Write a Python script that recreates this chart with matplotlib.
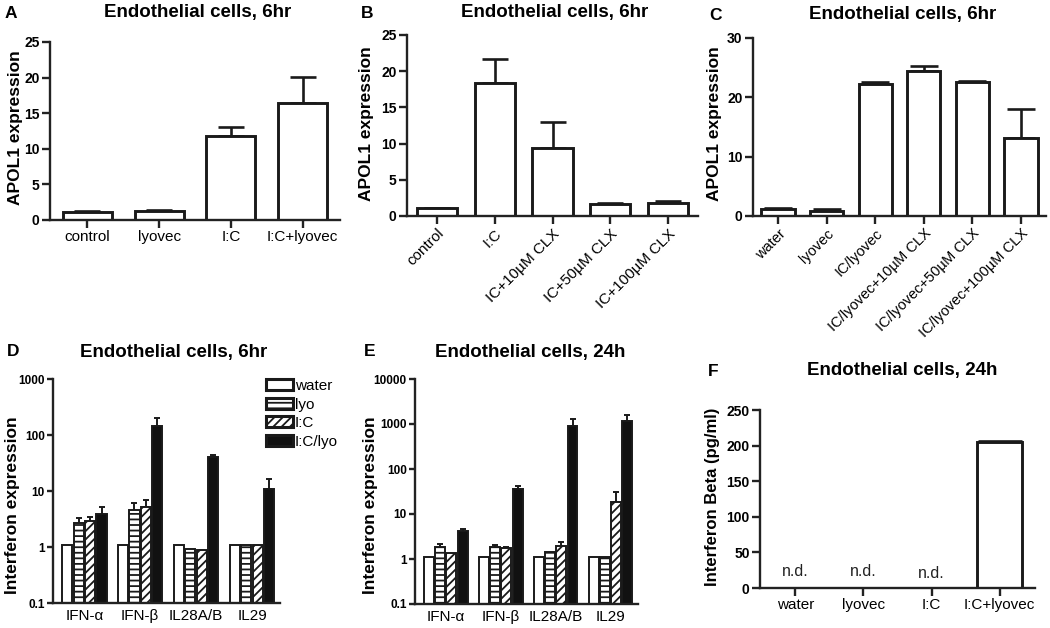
import matplotlib
matplotlib.use("Agg")
import matplotlib.pyplot as plt
import numpy as np
from matplotlib.ticker import FixedLocator, NullLocator, NullFormatter

plt.rcParams['font.family'] = ['Liberation Sans', 'DejaVu Sans']
plt.rcParams['hatch.linewidth'] = 1.3

# ---------------- data ----------------
a_labels = ["control", "lyovec", "I:C", "I:C+lyovec"]
a_values = [1.07, 1.2, 11.8, 16.45]
a_errtop = [1.2, 1.35, 13.0, 20.05]

b_labels = ["control", "I:C", "IC+10\u00b5M CLX", "IC+50\u00b5M CLX", "IC+100\u00b5M CLX"]
b_values = [1.06, 18.4, 9.44, 1.66, 1.84]
b_errtop = [1.15, 21.7, 13.05, 1.85, 2.1]

c_labels = ["water", "lyovec", "IC/lyovec", "IC/lyovec+10\u00b5M CLX",
            "IC/lyovec+50\u00b5M CLX", "IC/lyovec+100\u00b5M CLX"]
c_values = [1.12, 0.9, 22.3, 24.5, 22.5, 13.2]
c_errtop = [1.3, 1.1, 22.5, 25.3, 22.7, 18.0]

ifn_groups = ["IFN-\u03b1", "IFN-\u03b2", "IL28A/B", "IL29"]
series_names = ["water", "lyo", "I:C", "I:C/lyo"]

# panel D (6hr): one list per series, one value per group
d_water = [1.0, 1.0, 1.0, 1.0]
d_lyo = [2.58, 4.45, 0.84, 1.0]
d_ic = [2.76, 5.18, 0.80, 1.0]
d_iclyo = [3.73, 143.0, 40.5, 10.9]
d_lyo_err = [3.25, 6.1, 0.84, 1.0]
d_ic_err = [3.43, 7.0, 0.87, 1.0]
d_iclyo_err = [5.18, 201.0, 44.5, 16.6]

# panel E (24h)
e_water = [1.0, 1.0, 1.0, 1.0]
e_lyo = [1.73, 1.73, 1.35, 1.0]
e_ic = [1.29, 1.67, 1.82, 18.2]
e_iclyo = [4.06, 36.7, 880.0, 1140.0]
e_lyo_err = [2.2, 2.05, 1.38, 1.0]
e_ic_err = [1.32, 1.88, 2.43, 31.5]
e_iclyo_err = [4.55, 42.9, 1280.0, 1600.0]

f_labels = ["water", "lyovec", "I:C", "I:C+lyovec"]
f_values = [np.nan, np.nan, np.nan, 205.6]
f_errtop = [np.nan, np.nan, np.nan, 207.0]
f_nd_text = ["n.d.", "n.d.", "n.d.", ""]
f_nd_y = [23, 23, 21, 0]

# ---------------- layout helpers ----------------
W, H = 1050, 628
fig = plt.figure(figsize=(W / 100, H / 100), dpi=100)

TITLE_FS = 13.5
YLAB_FS = 12.5
LET_FS = 12.5


def rect(l, r, t, b):
    return [l / W, 1 - b / H, (r - l) / W, (b - t) / H]


def ftext(x, y, s, **kw):
    fig.text(x / W, 1 - y / H, s, **kw)


def style_axes(ax, lw=1.7):
    for s in ['top', 'right']:
        ax.spines[s].set_visible(False)
    for s in ['left', 'bottom']:
        ax.spines[s].set_linewidth(lw)
        ax.spines[s].set_color('#222222')
    ax.tick_params(axis='both', width=lw, length=5.5, color='#222222', pad=2)
    for lab in ax.get_yticklabels():
        lab.set_fontweight('bold')


def simple_bars(ax, labels, values, errtop, width, capsize, ylim, yticks,
                rot=False, fs=10.5):
    x = np.arange(len(labels))
    vals = np.array(values, dtype=float)
    tops = np.array(errtop, dtype=float)
    ax.bar(x, vals, width=width, color='white', edgecolor='#1a1a1a',
           linewidth=2.1, zorder=2)
    ok = ~np.isnan(vals)
    ax.errorbar(x[ok], vals[ok],
                yerr=[np.zeros(ok.sum()), tops[ok] - vals[ok]],
                fmt='none', ecolor='#1a1a1a', elinewidth=1.9, capsize=capsize,
                capthick=1.9, zorder=1)
    ax.set_xlim(-0.52, len(labels) - 0.48)
    ax.set_ylim(*ylim)
    ax.set_yticks(yticks)
    ax.set_xticks(x)
    if rot:
        ax.set_xticklabels(labels, rotation=45, ha='right',
                           rotation_mode='anchor', fontsize=fs)
    else:
        ax.set_xticklabels(labels, fontsize=fs)
    ax.tick_params(axis='y', labelsize=10)
    style_axes(ax)


# ---------------- Panel A ----------------
axA = fig.add_axes(rect(50, 340, 42, 220))
simple_bars(axA, a_labels, a_values, a_errtop, 0.68, 9.5, (0, 25),
            [0, 5, 10, 15, 20, 25], fs=11)
ftext(16, 128, "APOL1 expression", rotation=90, ha='center', va='center',
      fontsize=YLAB_FS, fontweight='bold')
ftext(198, 12, "Endothelial cells, 6hr", ha='center', va='center',
      fontsize=TITLE_FS, fontweight='bold')
ftext(11, 13, "A", ha='center', va='center', fontsize=LET_FS, fontweight='bold')

# ---------------- Panel B ----------------
axB = fig.add_axes(rect(407, 698, 35, 216))
simple_bars(axB, b_labels, b_values, b_errtop, 0.7, 9.5, (0, 25),
            [0, 5, 10, 15, 20, 25], rot=True, fs=11)
ftext(367, 124, "APOL1 expression", rotation=90, ha='center', va='center',
      fontsize=YLAB_FS, fontweight='bold')
ftext(555, 12, "Endothelial cells, 6hr", ha='center', va='center',
      fontsize=TITLE_FS, fontweight='bold')
ftext(367, 14, "B", ha='center', va='center', fontsize=LET_FS, fontweight='bold')

# ---------------- Panel C ----------------
axC = fig.add_axes(rect(753, 1046, 38, 216))
simple_bars(axC, c_labels, c_values, c_errtop, 0.69, 10, (0, 30),
            [0, 10, 20, 30], rot=True, fs=10.5)
ftext(715, 124, "APOL1 expression", rotation=90, ha='center', va='center',
      fontsize=YLAB_FS, fontweight='bold')
ftext(903, 14, "Endothelial cells, 6hr", ha='center', va='center',
      fontsize=TITLE_FS, fontweight='bold')
ftext(716, 15, "C", ha='center', va='center', fontsize=LET_FS, fontweight='bold')


# ---------------- Panels D, E (log) ----------------
def grouped_log(ax, series, errs, ymax_exp):
    x = np.arange(len(ifn_groups))
    step, width = 0.205, 0.18
    styles = [dict(color='white', hatch=None),
              dict(color='white', hatch='---'),
              dict(color='white', hatch='////'),
              dict(color='#111111', hatch=None)]
    handles = []
    for i, (vals, st) in enumerate(zip(series, styles)):
        pos = x + (i - 1.5) * step
        h = ax.bar(pos, vals, width=width, bottom=0.1, color=st['color'],
                   hatch=st['hatch'], edgecolor='#1a1a1a', linewidth=1.4,
                   zorder=2, label=series_names[i])
        handles.append(h)
        e = errs[i]
        if e is not None:
            v = np.array(vals)
            t = np.array(e)
            ax.errorbar(pos, v, yerr=[np.zeros_like(v), t - v], fmt='none',
                        ecolor='#1a1a1a', elinewidth=1.4, capsize=2.5,
                        capthick=1.4, zorder=1)
    ax.set_yscale('log')
    ax.set_ylim(0.1, 10 ** ymax_exp)
    ticks = [10.0 ** k for k in range(-1, ymax_exp + 1)]
    ax.yaxis.set_major_locator(FixedLocator(ticks))
    ax.set_yticklabels(["0.1"] + [str(int(round(t))) for t in ticks[1:]],
                       fontsize=8.5)
    ax.yaxis.set_minor_locator(NullLocator())
    ax.yaxis.set_minor_formatter(NullFormatter())
    ax.set_xlim(-0.56, len(ifn_groups) - 0.5)
    ax.set_xticks(x)
    ax.set_xticklabels(ifn_groups, fontsize=11)
    style_axes(ax)
    ax.tick_params(axis='x', length=0, pad=4)
    ax.tick_params(axis='y', length=4)
    return handles


axD = fig.add_axes(rect(53, 280, 379, 603))
hD = grouped_log(axD, [d_water, d_lyo, d_ic, d_iclyo],
                 [None, d_lyo_err, d_ic_err, d_iclyo_err], 3)
ftext(13, 505, "Interferon expression", rotation=90, ha='center',
      va='center', fontsize=YLAB_FS, fontweight='bold')
ftext(174, 352, "Endothelial cells, 6hr", ha='center', va='center',
      fontsize=TITLE_FS, fontweight='bold')
ftext(13, 352, "D", ha='center', va='center', fontsize=LET_FS, fontweight='bold')
leg = fig.legend(handles=hD, labels=series_names, loc='upper left',
                 bbox_to_anchor=(266 / W, 1 - 379 / H), frameon=False,
                 fontsize=11, handlelength=1.75, handleheight=0.7,
                 handletextpad=0.15, labelspacing=0.3, borderpad=0,
                 borderaxespad=0)
for p in leg.get_patches():
    p.set_linewidth(2.2)

axE = fig.add_axes(rect(415, 638, 379, 604))
grouped_log(axE, [e_water, e_lyo, e_ic, e_iclyo],
            [None, e_lyo_err, e_ic_err, e_iclyo_err], 4)
ftext(371, 505, "Interferon expression", rotation=90, ha='center',
      va='center', fontsize=YLAB_FS, fontweight='bold')
ftext(530, 352, "Endothelial cells, 24h", ha='center', va='center',
      fontsize=TITLE_FS, fontweight='bold')
ftext(370, 352, "E", ha='center', va='center', fontsize=LET_FS, fontweight='bold')

# ---------------- Panel F ----------------
axF = fig.add_axes(rect(760, 1035, 410, 588))
simple_bars(axF, f_labels, f_values, f_errtop, 0.65, 16, (0, 250),
            [0, 50, 100, 150, 200, 250], fs=11)
for i, (t, yv) in enumerate(zip(f_nd_text, f_nd_y)):
    if t:
        axF.text(i, yv, t, ha='center', va='center', fontsize=11.5,
                 color='#222222')
ftext(712, 497, "Interferon Beta (pg/ml)", rotation=90, ha='center',
      va='center', fontsize=12, fontweight='bold')
ftext(902, 371, "Endothelial cells, 24h", ha='center', va='center',
      fontsize=TITLE_FS, fontweight='bold')
ftext(713, 372, "F", ha='center', va='center', fontsize=LET_FS, fontweight='bold')

fig.savefig("out.png", dpi=100)
